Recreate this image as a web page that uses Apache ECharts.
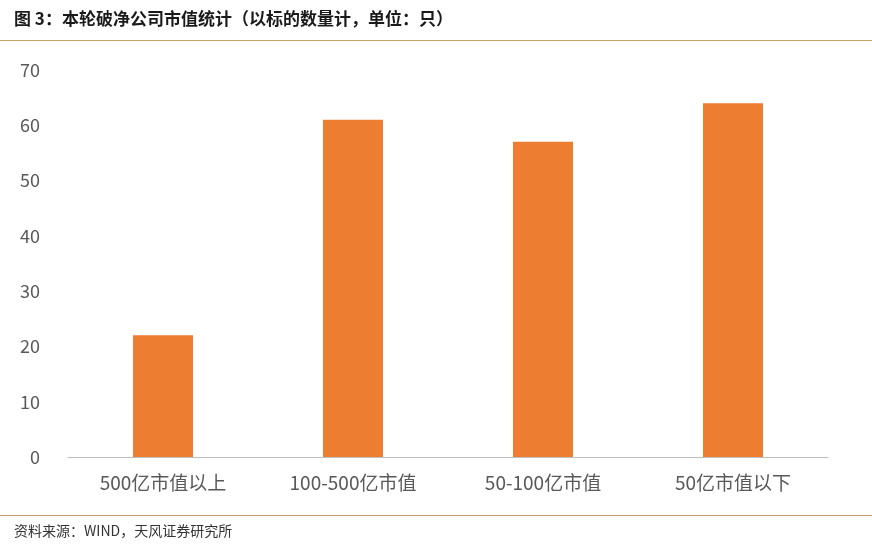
<!DOCTYPE html>
<html><head><meta charset="utf-8">
<script src="https://cdn.jsdelivr.net/npm/echarts@6/dist/echarts.min.js"></script>
<style>html,body{margin:0;padding:0;background:#fff}#c{width:872px;height:552px}</style>
</head><body><div id="c"></div>
<script>
const categories = ['500亿市值以上','100-500亿市值','50-100亿市值','50亿市值以下'];
const values = [22, 61, 57, 64];
const yTicks = [0,10,20,30,40,50,60,70];
const chart = echarts.init(document.getElementById('c'));
chart.setOption({
  animation:false,
  graphic:[
    {type:'text',left:14,top:10,style:{text:'图 3：本轮破净公司市值统计（以标的数量计，单位：只）',font:'bold 17px "Noto Sans CJK SC"',fill:'#1a1a1a'}},
    {type:'rect',shape:{x:0,y:40,width:872,height:1},style:{fill:'#C9A063'}},
    {type:'rect',shape:{x:0,y:515,width:872,height:1},style:{fill:'#C9A063'}},
    {type:'text',left:14,top:524,style:{text:'资料来源：WIND，天风证券研究所',font:'14px "Noto Sans CJK SC"',fill:'#333'}}
  ],
  grid:{left:68,right:44,top:70,bottom:95},
  xAxis:{type:'category',data:categories,axisTick:{show:false},
    axisLine:{lineStyle:{color:'#bfbfbf'}},
    axisLabel:{color:'#595959',fontSize:19,margin:16,fontFamily:'"Noto Sans CJK SC"'}},
  yAxis:{type:'value',min:0,max:70,interval:10,splitLine:{show:false},
    axisLabel:{color:'#595959',fontSize:18,margin:28,fontFamily:'"Noto Sans CJK SC"'}},
  series:[{type:'bar',data:values,barWidth:60,itemStyle:{color:'#ED7D31'}}]
});
</script></body></html>
